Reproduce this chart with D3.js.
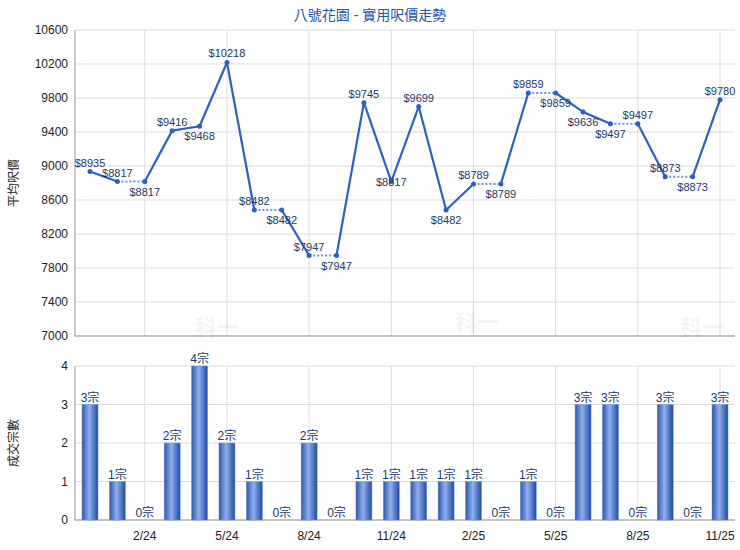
<!DOCTYPE html>
<html><head><meta charset="utf-8">
<script src="https://cdn.jsdelivr.net/npm/d3@7"></script>
<style>body{margin:0;background:#fff;font-family:Arial,"Liberation Sans","Noto Sans CJK TC",sans-serif}</style>
</head><body><svg id="c" width="740" height="550"></svg>
<script>
// months 12/23 .. 11/25
var months = ["12/23","1/24","2/24","3/24","4/24","5/24","6/24","7/24","8/24","9/24","10/24","11/24","12/24","1/25","2/25","3/25","4/25","5/25","6/25","7/25","8/25","9/25","10/25","11/25"];
var prices = [8935,8817,8817,9416,9468,10218,8482,8482,7947,7947,9745,8817,9699,8482,8789,8789,9859,9859,9636,9497,9497,8873,8873,9780];
var counts = [3,1,0,2,4,2,1,0,2,0,1,1,1,1,1,0,1,0,3,3,0,3,0,3];
var labelPos = ["u","u","d","u","d","u","u","d","u","d","u","m","u","d","u","d","u","d","d","d","u","u","d","u"];
var tickMonths = ["2/24","5/24","8/24","11/24","2/25","5/25","8/25","11/25"];
var priceTicks = d3.range(7000, 10601, 400);
var countTicks = [0,1,2,3,4];

var svg = d3.select("#c");
var L = 75, R = 735;
var x = d3.scalePoint().domain(months).range([90, 720]);
var yP = d3.scaleLinear().domain([7000, 10600]).range([336, 30]);
var yC = d3.scaleLinear().domain([0, 4]).range([520, 366]);

var grad = svg.append("defs").append("linearGradient").attr("id", "bg");
[["0%","#2a55b5"],["45%","#8fb0e8"],["100%","#1f49a8"]].forEach(function(s){
  grad.append("stop").attr("offset", s[0]).attr("stop-color", s[1]);
});

svg.append("text").attr("x", 370).attr("y", 20).attr("text-anchor", "middle")
  .attr("font-size", 14).attr("fill", "#1a55b0").text("八號花園 - 實用呎價走勢");

function panel(y, ticks, y0, y1, marks) {
  var g = svg.append("g");
  g.selectAll(".h").data(ticks).enter().append("line")
    .attr("x1", L).attr("x2", R).attr("y1", d => y(d)).attr("y2", d => y(d))
    .attr("stroke", "#ddd");
  g.selectAll(".v").data(tickMonths).enter().append("line")
    .attr("x1", d => x(d)).attr("x2", d => x(d)).attr("y1", y0).attr("y2", y1)
    .attr("stroke", "#ddd");
  g.append("line").attr("x1", L).attr("x2", L).attr("y1", y0).attr("y2", y1).attr("stroke", "#999");
  g.append("line").attr("x1", L).attr("x2", R).attr("y1", y1).attr("y2", y1).attr("stroke", "#999");
  g.selectAll(".t").data(ticks).enter().append("text")
    .attr("x", L - 7).attr("y", d => y(d) + 4).attr("text-anchor", "end")
    .attr("font-size", 12).attr("fill", "#222").text(d => d);
  marks.forEach(function(m){
    g.append("text").attr("x", m[0]).attr("y", m[1]).attr("font-size", 22)
      .attr("font-weight", "bold").attr("fill", "#000").attr("opacity", 0.04).text("科一");
  });
}
panel(yP, priceTicks, 30, 336, [[195, 335], [455, 330], [680, 335]]);
panel(yC, countTicks, 366, 520, []);

svg.append("text").attr("transform", "translate(18,183) rotate(-90)").attr("text-anchor", "middle")
  .attr("font-size", 12).attr("fill", "#222").text("平均呎價");
svg.append("text").attr("transform", "translate(18,443) rotate(-90)").attr("text-anchor", "middle")
  .attr("font-size", 12).attr("fill", "#222").text("成交宗數");

svg.selectAll(".xl").data(tickMonths).enter().append("text")
  .attr("x", d => x(d)).attr("y", 540).attr("text-anchor", "middle")
  .attr("font-size", 12).attr("fill", "#222").text(d => d);

// price line: dotted into months with no transactions
for (var i = 1; i < months.length; i++) {
  svg.append("line")
    .attr("x1", x(months[i-1])).attr("y1", yP(prices[i-1]))
    .attr("x2", x(months[i])).attr("y2", yP(prices[i]))
    .attr("stroke", counts[i] === 0 ? "#6f93e0" : "#2a5fcf")
    .attr("stroke-width", counts[i] === 0 ? 2 : 2.2)
    .attr("stroke-dasharray", counts[i] === 0 ? "2,2" : null);
}
svg.selectAll(".pt").data(prices).enter().append("circle")
  .attr("cx", (d, i) => x(months[i])).attr("cy", d => yP(d)).attr("r", 2.5).attr("fill", "#2a5fcf");
svg.selectAll(".pl").data(prices).enter().append("text")
  .attr("x", (d, i) => x(months[i]))
  .attr("y", (d, i) => yP(d) + (labelPos[i] === "u" ? -5 : labelPos[i] === "d" ? 14 : 4))
  .attr("text-anchor", "middle").attr("font-size", 11).attr("fill", "#1a3a6a")
  .text(d => "$" + d);

// bars
svg.selectAll(".b").data(counts).enter().append("rect")
  .attr("x", (d, i) => x(months[i]) - 8).attr("width", 16)
  .attr("y", d => yC(d)).attr("height", d => yC(0) - yC(d))
  .attr("fill", "url(#bg)").attr("stroke", "#6f93e0").attr("stroke-width", 0.5);
svg.selectAll(".bl").data(counts).enter().append("text")
  .attr("x", (d, i) => x(months[i])).attr("y", d => yC(d) - 3)
  .attr("text-anchor", "middle").attr("font-size", 12).attr("fill", "#1a3a6a")
  .text(d => d + "宗");
</script></body></html>
